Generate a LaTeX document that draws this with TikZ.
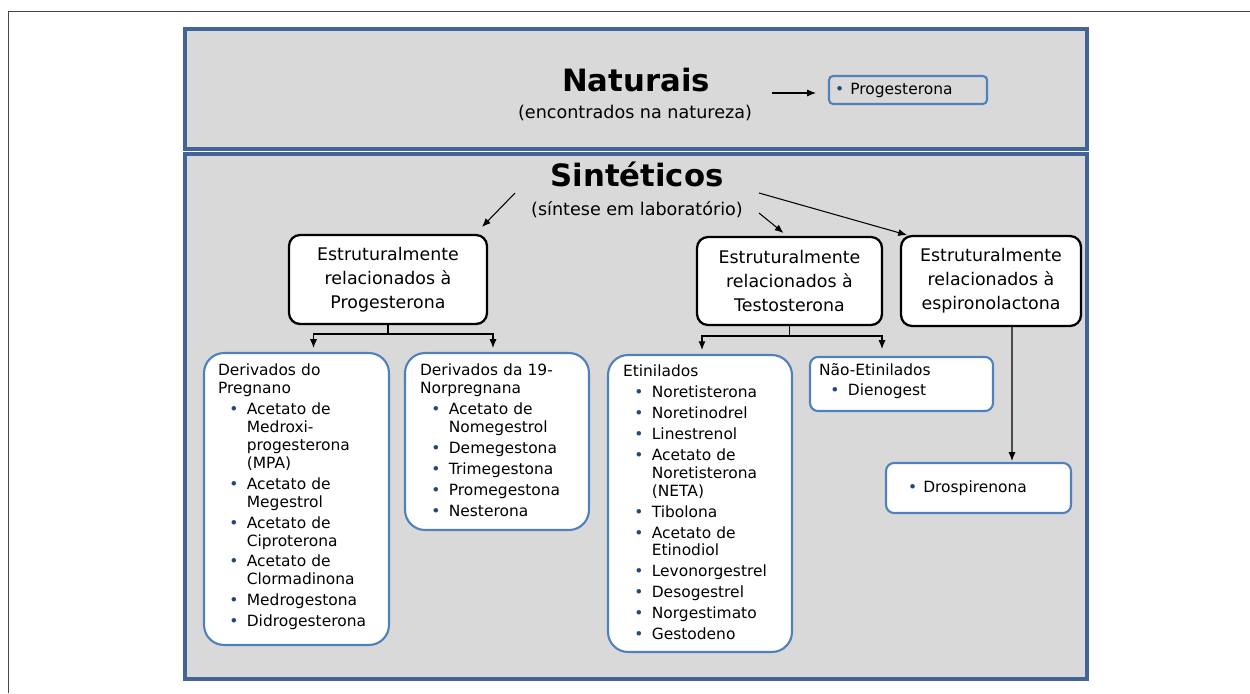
\documentclass[tikz,border=0pt]{standalone}
\usepackage{fontspec}
\setmainfont{DejaVu Sans}
\usetikzlibrary{arrows.meta,calc,positioning}

\definecolor{panelgray}{RGB}{217,217,217}
\definecolor{panelblue}{RGB}{66,100,150}
\definecolor{boxblue}{RGB}{79,129,189}
\definecolor{dotblue}{RGB}{31,73,125}
\definecolor{framegray}{RGB}{70,70,70}

\newcommand\listfont{\fontsize{8.8}{10.2}\selectfont}
\newcommand\bdot{\textcolor{dotblue}{•}}
\newcommand\li{\par\vspace{1.7pt}\hangindent=16.4pt\hangafter=1\noindent\makebox[16.4pt][l]{\hspace{6.4pt}\bdot}}

\begin{document}
\begin{tikzpicture}[x=0.02cm,y=-0.02cm]
\tikzstyle{every node}=[inner sep=0pt, outer sep=0pt]
\tikzstyle{panel}=[draw=panelblue, line width=2pt, fill=panelgray, minimum width=18.04cm]
\tikzstyle{relbox}=[draw=black, line width=1.3pt, fill=white, rounded corners=0.22cm, align=center, font=\fontsize{9.9}{13.6}\selectfont]
\tikzstyle{listbox}=[draw=boxblue, line width=1.2pt, fill=white, rounded corners=0.4cm]
\tikzstyle{smallbox}=[draw=boxblue, line width=1.2pt, rounded corners=0.16cm, align=left, font=\listfont]
\tikzstyle{listtext}=[anchor=north west, text width=3.3cm, align=left, font=\listfont]
\tikzstyle{arr}=[-{Latex[length=5pt,width=4pt]}, line width=0.6pt]

\useasboundingbox (0,0) rectangle (1250,693);
\draw[framegray, line width=0.6pt] (8.5,693) -- (8.5,11.5) -- (1250,11.5);

\node[panel, minimum height=2.4cm] (nat) at (636,89) {};
\node[panel, minimum height=10.5cm] (sint) at (636,416.5) {};

\node[font=\bfseries\fontsize{17.5}{20}\selectfont] (natt) at (636,80) {Naturais};
\node[font=\fontsize{10}{12}\selectfont] (nats) at (635,113) {(encontrados na natureza)};
\node[smallbox, fill=panelgray, rounded corners=0.08cm, minimum width=3.16cm, minimum height=0.56cm, inner xsep=0.12cm, text width=2.92cm] (prog) at (908,90) {\bdot\hspace{3.5pt}Progesterona};
\coordinate (n1) at (772,93);
\draw[arr] (n1) -- ($(prog.west)+(-13,3)$);

\node[font=\bfseries\fontsize{17.5}{20}\selectfont] (sintt) at (637,174) {Sintéticos};
\node[font=\fontsize{10}{12}\selectfont] (sints) at (637,209.5) {(síntese em laboratório)};

\node[relbox, minimum width=3.96cm, minimum height=1.78cm] (p) at (388,279.5) {Estruturalmente\\relacionados à\\Progesterona};
\node[relbox, minimum width=3.7cm, minimum height=1.76cm] (t) at (789.5,281) {Estruturalmente\\relacionados à\\Testosterona};
\node[relbox, minimum width=3.6cm, minimum height=1.8cm] (e) at (991,281) {Estruturalmente\\relacionados à\\espironolactona};

\coordinate (s1) at (515,193);
\coordinate (s2) at (759,213);
\coordinate (s3) at (759,193);
\draw[arr] (s1) -- ($(p.north east)+(-5,-8)$);
\draw[arr] (s2) -- ($(t.north)+(-6,-4)$);
\draw[arr] (s3) -- ($(e.north west)+(6,-1)$);

\node[listbox, minimum width=3.7cm, minimum height=5.84cm] (dp) at (296.5,499) {};
\node[listbox, minimum width=3.68cm, minimum height=3.54cm] (dn) at (497,441.5) {};
\node[listbox, minimum width=3.68cm, minimum height=5.94cm] (et) at (700,503.5) {};
\node[listbox, rounded corners=0.16cm, minimum width=3.66cm, minimum height=1.08cm] (ne) at (901.5,384) {};
\node[smallbox, fill=white, minimum width=3.7cm, minimum height=1.0cm, inner xsep=0.44cm, text width=2.82cm] (dr) at (978.5,488) {\bdot\hspace{3.5pt}Drospirenona};

\node[listtext] (dpt) at ($(dp.north west)+(14,11)$) {\noindent Derivados do\newline Pregnano
\li Acetato de\newline Medroxi-\newline progesterona\newline (MPA)
\li Acetato de\newline Megestrol
\li Acetato de\newline Ciproterona
\li Acetato de\newline Clormadinona
\li Medrogestona
\li Didrogesterona};

\node[listtext] (dnt) at ($(dn.north west)+(15,11)$) {\noindent Derivados da 19-\newline Norpregnana
\li Acetato de\newline Nomegestrol
\li Demegestona
\li Trimegestona
\li Promegestona
\li Nesterona};

\node[listtext] (ett) at ($(et.north west)+(15,10)$) {\noindent Etinilados
\li Noretisterona
\li Noretinodrel
\li Linestrenol
\li Acetato de\newline Noretisterona\newline (NETA)
\li Tibolona
\li Acetato de\newline Etinodiol
\li Levonorgestrel
\li Desogestrel
\li Norgestimato
\li Gestodeno};

\node[listtext] (net) at ($(ne.north west)+(9,6)$) {\noindent Não-Etinilados
\li Dienogest};

\draw[arr] (p.south) -- ++(0,10) -| ($(dp.north)+(17,-5)$);
\draw[arr] (p.south) -- ++(0,10) -| ($(dn.north)+(-4,-5)$);
\draw[arr] (t.south) -- ++(0,11) -| ($(et.north)+(2,-5)$);
\draw[arr] (t.south) -- ++(0,11) -| ($(ne.north)+(-19.5,-8)$);
\draw[arr] ($(e.south)+(21,0)$) -- ($(dr.north)+(33.5,-2)$);
\end{tikzpicture}
\end{document}
